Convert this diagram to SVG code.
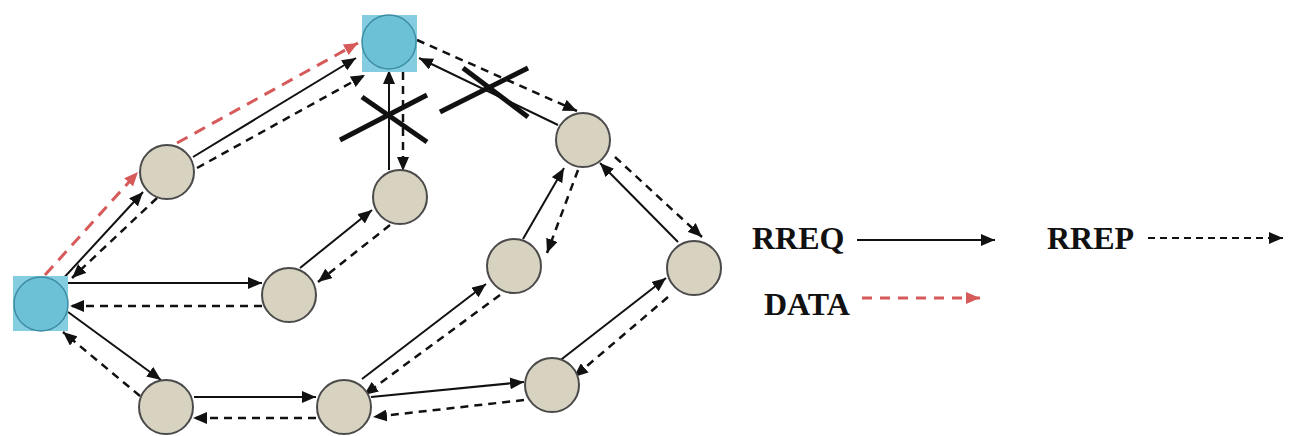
<svg xmlns="http://www.w3.org/2000/svg" width="1289" height="436" viewBox="0 0 1289 436">
<defs>
<style>
.node{fill:#D8D3C1;stroke:#4a4a4a;stroke-width:2}
.blue{fill:#6DC1D7;stroke:#3d8ea5;stroke-width:1.5}
.sq{fill:#84CDE0}
.req{stroke:#111;stroke-width:2;fill:none;marker-end:url(#ah)}
.rep{stroke:#111;stroke-width:2.5;fill:none;stroke-dasharray:8 6;marker-end:url(#ah)}
.data{stroke:#D65A5A;stroke-width:3;fill:none;stroke-dasharray:12 8;marker-end:url(#ahr)}
.cross{stroke:#111;stroke-width:5;stroke-linecap:butt}
.lbl{font-family:"Liberation Serif","Times New Roman",serif;font-weight:bold;font-size:32px;fill:#111}
</style>
<marker id="ah" markerUnits="userSpaceOnUse" markerWidth="14" markerHeight="12" refX="14" refY="6" orient="auto">
<path d="M0,0 L14,6 L0,12 z" fill="#111"/>
</marker>
<marker id="ahr" markerUnits="userSpaceOnUse" markerWidth="14" markerHeight="12" refX="14" refY="6" orient="auto">
<path d="M0,0 L14,6 L0,12 z" fill="#D65A5A"/>
</marker>
</defs>
<g id="connectors">
<!-- S-A -->
<line class="req" x1="60" y1="282" x2="143" y2="192"/>
<line class="rep" x1="157" y1="198" x2="72" y2="278"/>
<!-- A-D -->
<line class="req" x1="193" y1="157" x2="356" y2="58"/>
<line class="rep" x1="197" y1="168" x2="365" y2="75"/>
<!-- D-B -->
<line class="req" x1="389" y1="170" x2="389" y2="70"/>
<line class="rep" x1="403" y1="72" x2="403" y2="171"/>
<!-- C-B -->
<line class="req" x1="300" y1="268" x2="372" y2="210"/>
<line class="rep" x1="390" y1="225" x2="318" y2="282"/>
<!-- S-C -->
<line class="req" x1="68" y1="283" x2="262" y2="283"/>
<line class="rep" x1="262" y1="306" x2="70" y2="306"/>
<!-- S-E -->
<line class="req" x1="68" y1="312" x2="161" y2="380"/>
<line class="rep" x1="140" y1="396" x2="63" y2="332"/>
<!-- E-F -->
<line class="req" x1="194" y1="397" x2="316" y2="397"/>
<line class="rep" x1="316" y1="418" x2="193" y2="418"/>
<!-- F-H -->
<line class="req" x1="362" y1="379" x2="486" y2="284"/>
<line class="rep" x1="500" y1="295" x2="364" y2="395"/>
<!-- F-J -->
<line class="req" x1="371" y1="397" x2="524" y2="382"/>
<line class="rep" x1="524" y1="400" x2="373" y2="417"/>
<!-- J-I -->
<line class="req" x1="558" y1="362" x2="666" y2="278"/>
<line class="rep" x1="668" y1="297" x2="574" y2="377"/>
<!-- H-G -->
<line class="req" x1="523" y1="239" x2="564" y2="168"/>
<line class="rep" x1="578" y1="170" x2="547" y2="253"/>
<!-- I-G -->
<line class="req" x1="678" y1="242" x2="600" y2="163"/>
<line class="rep" x1="615" y1="157" x2="702" y2="237"/>
<!-- G-D -->
<line class="req" x1="558" y1="125" x2="419" y2="58"/>
<line class="rep" x1="417" y1="40" x2="577" y2="111"/>
<!-- DATA -->
<line class="data" x1="45" y1="275" x2="138" y2="172"/>
<line class="data" x1="177" y1="143" x2="358" y2="43"/>
<!-- crosses -->
<line class="cross" x1="340" y1="140" x2="427" y2="95"/>
<line class="cross" x1="362" y1="97" x2="427" y2="142"/>
<line class="cross" x1="440" y1="112" x2="528" y2="68"/>
<line class="cross" x1="463" y1="68" x2="528" y2="117"/>
</g>
<g id="node-S">
<rect class="sq" x="13" y="276" width="55" height="55"/>
<circle class="blue" cx="41" cy="304" r="27"/>
</g>
<g id="node-D">
<rect class="sq" x="362" y="15" width="55" height="57"/>
<circle class="blue" cx="389" cy="42" r="27"/>
</g>
<g id="node-A"><circle class="node" cx="167" cy="172" r="27"/></g>
<g id="node-B"><circle class="node" cx="400" cy="197" r="27"/></g>
<g id="node-C"><circle class="node" cx="289" cy="295" r="27"/></g>
<g id="node-E"><circle class="node" cx="166" cy="407" r="27"/></g>
<g id="node-F"><circle class="node" cx="344" cy="407" r="27"/></g>
<g id="node-G"><circle class="node" cx="583" cy="140" r="27"/></g>
<g id="node-H"><circle class="node" cx="514" cy="266" r="27"/></g>
<g id="node-I"><circle class="node" cx="694" cy="268" r="27"/></g>
<g id="node-J"><circle class="node" cx="552" cy="385" r="27"/></g>
<g id="legend">
<text class="lbl" x="752" y="249">RREQ</text>
<line class="req" x1="857" y1="240" x2="995" y2="240"/>
<text class="lbl" x="1047" y="249">RREP</text>
<line class="rep" x1="1148" y1="238" x2="1283" y2="238" style="stroke-dasharray:7 5;stroke-width:2"/>
<text class="lbl" x="764" y="315">DATA</text>
<line class="data" x1="862" y1="298" x2="980" y2="298" style="stroke-dasharray:10 8"/>
</g>
</svg>
